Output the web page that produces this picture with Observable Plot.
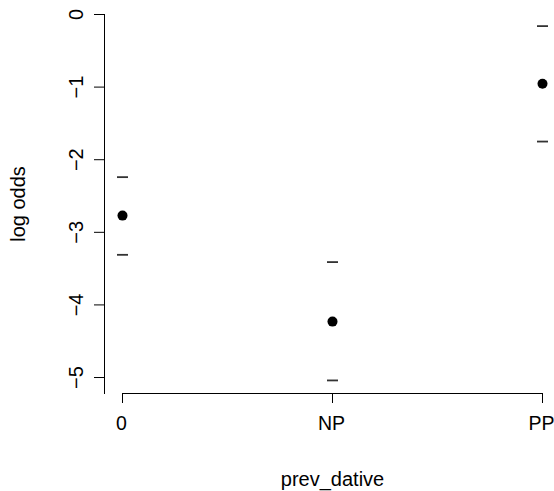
<!DOCTYPE html>
<html><head><meta charset="utf-8">
<script src="https://cdn.jsdelivr.net/npm/d3@7"></script>
<script src="https://cdn.jsdelivr.net/npm/@observablehq/plot@0.6"></script>
<style>body{margin:0;background:#fff}</style>
</head><body><div id="chart"></div>
<script>
const categories = ["0", "NP", "PP"];
const estimates = [-2.77, -4.23, -0.955];
const upper = [-2.24, -3.41, -0.16];
const lower = [-3.31, -5.04, -1.75];
const yTicks = [0, -1, -2, -3, -4, -5];
const yLimits = [-5.22, 0];
const xLabel = "prev_dative";
const yLabel = "log odds";

const rows = categories.map((c, i) => ({cat: c, est: estimates[i], hi: upper[i], lo: lower[i]}));
const fmt = d => d < 0 ? "\u2212" + Math.abs(d) : String(d);
const dash = {draw(ctx, size) { const r = Math.sqrt(size / Math.PI); ctx.moveTo(-r, 0); ctx.lineTo(r, 0); }};

const chart = Plot.plot({
  width: 554,
  height: 491,
  marginLeft: 104,
  marginRight: 0,
  marginTop: 14,
  marginBottom: 98,
  style: {fontFamily: "'Liberation Sans', Arial, Helvetica, sans-serif", fontSize: "20px", color: "black", background: "white"},
  x: {type: "point", domain: categories, range: [121, 542], padding: 0},
  y: {domain: yLimits},
  marks: [
    Plot.frame({anchor: "left", stroke: "black", strokeWidth: 1}),
    Plot.ruleY([{a: categories[0], b: categories[categories.length - 1], y: yLimits[0]}], {x1: "a", x2: "b", y: "y", stroke: "black", strokeWidth: 1}),
    Plot.axisX({tickSize: 10, tickFormat: () => "", label: null, stroke: "black"}),
    Plot.text(categories, {x: d => d, text: d => d, frameAnchor: "bottom", dy: 23, dx: -1, lineAnchor: "top", textAnchor: "middle", fontSize: 19.5}),
    Plot.axisY({ticks: yTicks, tickSize: 10, tickFormat: () => "", label: null, stroke: "black"}),
    Plot.text(yTicks, {y: d => d, text: fmt, frameAnchor: "left", dx: -28, rotate: -90, textAnchor: "middle", lineAnchor: "middle", fontSize: 20}),
    Plot.text([yLabel], {text: d => d, frameAnchor: "left", dx: -86, rotate: -90, textAnchor: "middle", lineAnchor: "middle", fontSize: 20}),
    Plot.text([xLabel], {x: () => categories[1], text: d => d, frameAnchor: "bottom", dy: 86, textAnchor: "middle", lineAnchor: "middle", fontSize: 20}),
    Plot.dot(rows, {x: "cat", y: "hi", symbol: dash, r: 5.5, fill: "none", stroke: "#333", strokeWidth: 1.8}),
    Plot.dot(rows, {x: "cat", y: "lo", symbol: dash, r: 5.5, fill: "none", stroke: "#333", strokeWidth: 1.8}),
    Plot.dot(rows, {x: "cat", y: "est", r: 5, fill: "black", stroke: "none"})
  ]
});
document.getElementById("chart").appendChild(chart);
</script>
</body></html>
